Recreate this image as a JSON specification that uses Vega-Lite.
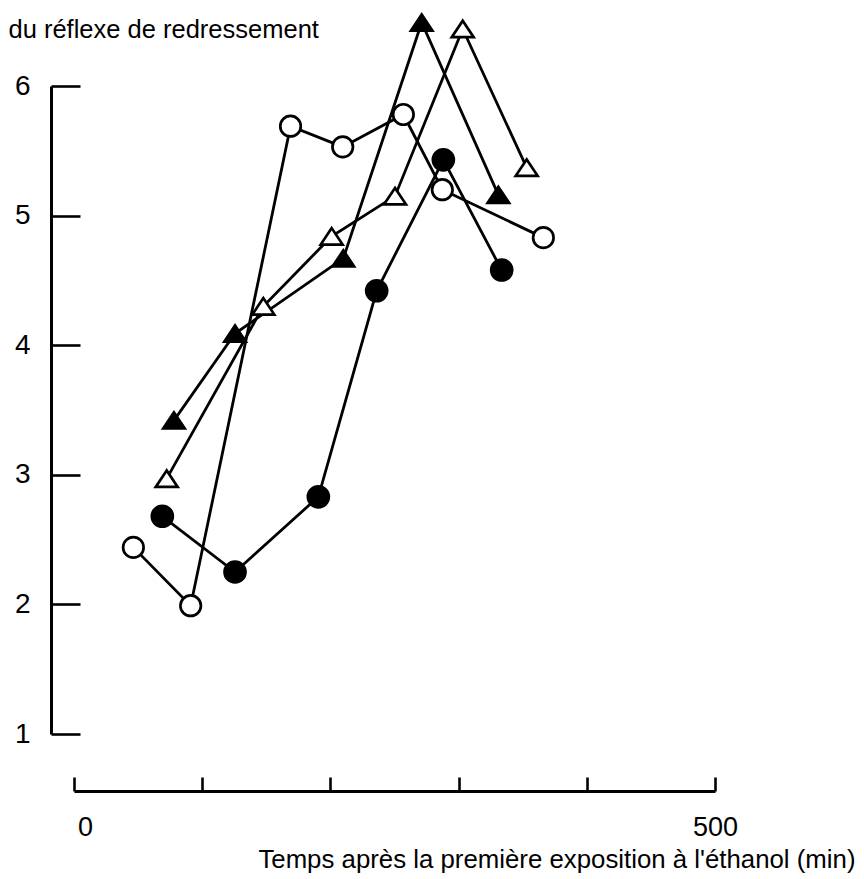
{
  "$schema": "https://vega.github.io/schema/vega-lite/v6.json",
  "autosize": {"type": "none"},
  "width": 641,
  "height": 648,
  "padding": {"left": 74, "top": 86, "right": 149, "bottom": 145},
  "background": "white",
  "config": {
    "view": {"stroke": null},
    "font": "Liberation Sans",
    "axis": {
      "grid": false,
      "domainColor": "black",
      "domainWidth": 3,
      "tickColor": "black",
      "tickWidth": 2.6,
      "labelColor": "black",
      "titleColor": "black",
      "titleFontWeight": "normal"
    }
  },
  "data": {
    "values": [
      {"groupe": "G2", "t": 68.9, "v": 2.68},
      {"groupe": "G2", "t": 125.6, "v": 2.25},
      {"groupe": "G2", "t": 190.6, "v": 2.83},
      {"groupe": "G2", "t": 236.1, "v": 4.42},
      {"groupe": "G2", "t": 288.1, "v": 5.43},
      {"groupe": "G2", "t": 333.6, "v": 4.58},
      {"groupe": "G3", "t": 78.0, "v": 3.42},
      {"groupe": "G3", "t": 125.6, "v": 4.09},
      {"groupe": "G3", "t": 210.1, "v": 4.67},
      {"groupe": "G3", "t": 271.2, "v": 6.49},
      {"groupe": "G3", "t": 331.0, "v": 5.16},
      {"groupe": "G4", "t": 72.3, "v": 2.97},
      {"groupe": "G4", "t": 147.7, "v": 4.30},
      {"groupe": "G4", "t": 201.0, "v": 4.84},
      {"groupe": "G4", "t": 250.4, "v": 5.15},
      {"groupe": "G4", "t": 303.2, "v": 6.44},
      {"groupe": "G4", "t": 353.1, "v": 5.37},
      {"groupe": "G1", "t": 46.3, "v": 2.44},
      {"groupe": "G1", "t": 91.0, "v": 1.99},
      {"groupe": "G1", "t": 168.9, "v": 5.69},
      {"groupe": "G1", "t": 209.6, "v": 5.53},
      {"groupe": "G1", "t": 256.9, "v": 5.78},
      {"groupe": "G1", "t": 287.3, "v": 5.20},
      {"groupe": "G1", "t": 366.1, "v": 4.83}
    ]
  },
  "encoding": {
    "x": {
      "field": "t",
      "type": "quantitative",
      "scale": {"domain": [0, 500], "nice": false, "zero": false},
      "axis": {
        "offset": 57,
        "values": [0, 100, 200, 300, 400, 500],
        "tickSize": -14,
        "labelExpr": "datum.value == 0 || datum.value == 500 ? datum.label : ''",
        "labelFontSize": 27,
        "labelPadding": 37,
        "labelOffset": {"condition": {"test": "datum.value == 0", "value": 11}, "value": 0},
        "labelFlush": false,
        "title": "Temps après la première exposition à l'éthanol (min)",
        "titleFontSize": 25.8,
        "titleAlign": "right",
        "titleAnchor": "end",
        "titleBaseline": "alphabetic",
        "titleX": 781,
        "titleY": 76
      }
    },
    "y": {
      "field": "v",
      "type": "quantitative",
      "scale": {"domain": [1, 6], "nice": false, "zero": false},
      "axis": {
        "offset": 23,
        "values": [1, 2, 3, 4, 5, 6],
        "tickSize": -29,
        "labelFontSize": 28,
        "labelPadding": 50,
        "labelFlush": false,
        "title": "du réflexe de redressement",
        "titleFontSize": 25.5,
        "titleAngle": 0,
        "titleAlign": "left",
        "titleAnchor": "start",
        "titleBaseline": "alphabetic",
        "titleX": -43,
        "titleY": -49
      }
    }
  },
  "layer": [
    {
      "mark": {"type": "line", "color": "black", "strokeWidth": 2.8},
      "encoding": {"detail": {"field": "groupe"}, "order": {"field": "t"}}
    },
    {
      "mark": {"type": "point", "filled": true, "stroke": "black", "strokeWidth": 2.7, "opacity": 1},
      "encoding": {
        "shape": {
          "field": "groupe",
          "type": "nominal",
          "scale": {
            "domain": ["G1", "G2", "G3", "G4"],
            "range": ["circle", "circle", "M0,-0.75L-1,0.75L1,0.75Z", "M0,-0.75L-1,0.75L1,0.75Z"]
          },
          "legend": null
        },
        "fill": {
          "field": "groupe",
          "type": "nominal",
          "scale": {"domain": ["G1", "G2", "G3", "G4"], "range": ["white", "black", "black", "white"]},
          "legend": null
        },
        "size": {
          "field": "groupe",
          "type": "ordinal",
          "scale": {"domain": ["G1", "G2", "G3", "G4"], "range": [420, 480, 980, 980]},
          "legend": null
        }
      }
    }
  ]
}
